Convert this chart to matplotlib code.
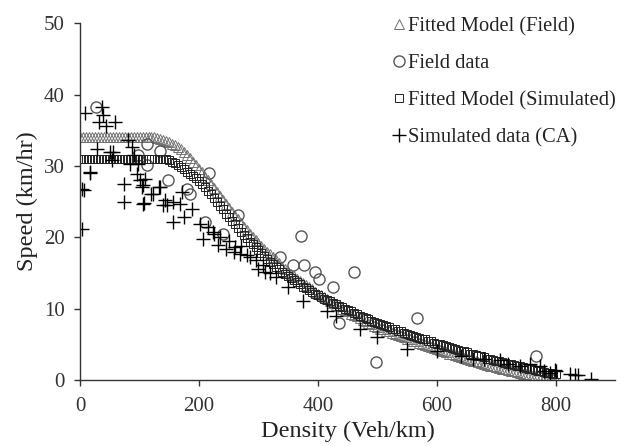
import numpy as np
import matplotlib
matplotlib.use("Agg")
import matplotlib.pyplot as plt

plt.rcParams["font.family"] = ["Liberation Serif", "DejaVu Serif"]

# model curves evaluated every 5 veh/km
density_model = np.arange(0, 801, 5)

speed_fit_field = [34.0] * 26 + [
    33.9, 33.8, 33.7, 33.5, 33.3, 33.1, 32.9, 32.6, 32.3, 31.9,  # 130-175
    31.5, 31.1, 30.6, 30.1, 29.6, 29.1, 28.5, 28.0, 27.4, 26.9,  # 180-225
    26.3, 25.8, 25.2, 24.7, 24.1, 23.6, 23.0, 22.5, 22.0, 21.5,  # 230-275
    21.0, 20.5, 20.1, 19.6, 19.2, 18.8, 18.4, 18.0, 17.6, 17.2,  # 280-325
    16.8, 16.4, 15.9, 15.6, 15.2, 14.9, 14.6, 14.2, 13.9, 13.6,  # 330-375
    13.3, 13.0, 12.7, 12.4, 12.1, 11.9, 11.6, 11.3, 11.0, 10.8,  # 380-425
    10.5, 10.3, 10.0, 9.8, 9.6, 9.3, 9.1, 8.9, 8.7, 8.4,         # 430-475
    8.2, 8.0, 7.8, 7.6, 7.4, 7.2, 7.1, 6.9, 6.8, 6.6,            # 480-525
    6.4, 6.3, 6.1, 6.0, 5.8, 5.7, 5.5, 5.4, 5.2, 5.1,            # 530-575
    4.9, 4.8, 4.6, 4.5, 4.3, 4.2, 4.0, 3.9, 3.7, 3.6,            # 580-625
    3.5, 3.3, 3.2, 3.1, 3.0, 2.8, 2.7, 2.6, 2.5, 2.4,            # 630-675
    2.3, 2.1, 2.0, 1.9, 1.8, 1.7, 1.6, 1.5, 1.4, 1.3,            # 680-725
    1.2, 1.1, 1.0, 0.9, 0.8, 0.7, 0.6, 0.5, 0.5, 0.4,            # 730-775
    0.3, 0.2, 0.1, 0.1, 0.0,                                     # 780-800
]

speed_fit_sim = [31.0] * 30 + [
    30.8, 30.6, 30.4, 30.1, 29.8, 29.5, 29.2, 28.9, 28.6, 28.3,  # 150-195
    27.9, 27.5, 27.0, 26.5, 26.0, 25.5, 25.0, 24.4, 23.9, 23.3,  # 200-245
    22.8, 22.3, 21.8, 21.3, 20.8, 20.3, 19.9, 19.4, 19.0, 18.6,  # 250-295
    18.2, 17.8, 17.4, 17.0, 16.6, 16.2, 15.9, 15.5, 15.2, 14.9,  # 300-345
    14.6, 14.3, 14.0, 13.7, 13.4, 13.1, 12.9, 12.6, 12.4, 12.1,  # 350-395
    11.9, 11.6, 11.4, 11.2, 11.0, 10.8, 10.6, 10.4, 10.2, 10.0,  # 400-445
    9.8, 9.6, 9.4, 9.2, 9.0, 8.8, 8.7, 8.5, 8.3, 8.1,            # 450-495
    8.0, 7.8, 7.7, 7.5, 7.4, 7.2, 7.1, 6.9, 6.8, 6.6,            # 500-545
    6.5, 6.3, 6.2, 6.0, 5.9, 5.8, 5.7, 5.5, 5.4, 5.2,            # 550-595
    5.1, 5.0, 4.9, 4.7, 4.6, 4.5, 4.4, 4.2, 4.1, 4.0,            # 600-645
    3.9, 3.7, 3.6, 3.5, 3.4, 3.3, 3.2, 3.0, 2.9, 2.8,            # 650-695
    2.7, 2.6, 2.5, 2.4, 2.3, 2.2, 2.1, 2.0, 1.9, 1.8,            # 700-745
    1.7, 1.6, 1.5, 1.4, 1.3, 1.2, 1.1, 1.0, 1.0, 0.9,            # 750-795
    0.8,                                                         # 800
]

# observed field data
field_density = [27, 97, 112, 112, 134, 148, 179, 184, 210, 217, 240, 266,
                 336, 358, 371, 376, 395, 401, 426, 436, 460, 498, 566, 766]
field_speed = [38.2, 31.5, 33.1, 30.1, 32.1, 28.0, 26.8, 26.0, 22.2, 29.0, 20.5, 23.1,
               17.2, 16.1, 20.2, 16.1, 15.2, 14.1, 13.1, 8.0, 15.2, 2.5, 8.7, 3.4]

# cellular automaton output
ca_density = [8, 36, 38, 31, 44, 59, 16, 6, 73, 74, 28, 50, 81, 87, 90, 84,
              95, 101, 106, 108, 120, 134, 143, 157, 171, 188,
              3, 106, 140, 168, 157, 174, 202, 207, 224, 232, 246, 258, 269,
              286, 308, 311, 375, 415, 471, 549, 17, 3, 109, 123, 132, 146,
              56, 53, 98, 104, 215, 225, 235, 250, 260, 270, 280, 295, 300,
              320, 330, 350, 430, 500, 600, 640, 660, 680, 706, 720, 740,
              756, 773, 780, 790, 798, 800, 824, 832, 838, 860]
ca_speed = [37.4, 38.2, 37.2, 36.2, 35.6, 36.2, 29.0, 26.6, 27.5, 25.0, 32.4, 32.0, 33.6, 32.7, 31.5, 30.3,
            28.9, 28.0, 27.3, 24.8, 26.1, 27.1, 25.2, 25.0, 26.4, 24.0,
            21.2, 24.7, 24.5, 24.7, 22.2, 22.9, 21.9, 19.8, 20.7, 18.9, 18.4, 18.0, 17.7,
            17.3, 16.1, 15.2, 11.1, 9.6, 7.2, 4.4, 29.2, 26.7, 28.2, 26.1, 27.1, 24.5,
            32.0, 30.8, 30.3, 27.1, 21.5, 20.5, 20.0, 19.5, 18.6, 18.8, 17.5, 16.8, 15.5,
            15.0, 14.5, 13.0, 9.0, 6.0, 4.0, 3.3, 3.0, 2.9, 2.8, 2.2, 2.0,
            2.3, 1.9, 1.3, 1.0, 1.4, 1.2, 0.9, 0.7, 0.7, 0.2]

fig = plt.figure(figsize=(6.31, 4.46), dpi=100)
ax = fig.add_axes([0.127, 0.148, 0.848, 0.800])

ax.plot(density_model, speed_fit_field, linestyle="none", marker="^",
        markersize=6.5, markerfacecolor="none", markeredgecolor="#707070",
        markeredgewidth=0.7, label="Fitted Model (Field)")
ax.plot(field_density, field_speed, linestyle="none", marker="o",
        markersize=8, markerfacecolor="none", markeredgecolor="#555555",
        markeredgewidth=1.0, label="Field data")
ax.plot(density_model, speed_fit_sim, linestyle="none", marker="s",
        markersize=6, markerfacecolor="none", markeredgecolor="#222222",
        markeredgewidth=0.7, label="Fitted Model (Simulated)")
ax.plot(ca_density, ca_speed, linestyle="none", marker="+",
        markersize=10, markeredgecolor="black", markeredgewidth=1.0,
        label="Simulated data (CA)")

ax.set_xlim(0, 900)
ax.set_ylim(0, 50)
ax.set_xticks([0, 200, 400, 600, 800])
ax.set_yticks([0, 10, 20, 30, 40, 50])
ax.spines["top"].set_visible(False)
ax.spines["right"].set_visible(False)
for side in ("left", "bottom"):
    ax.spines[side].set_color("#333333")
    ax.spines[side].set_linewidth(1.0)
ax.tick_params(axis="both", direction="out", length=4, width=1.0,
               color="#333333", labelsize=15, labelcolor="#333333")
ax.tick_params(axis="y", pad=7)
ax.tick_params(axis="x", pad=8)

ax.set_xlabel("Density (Veh/km)", fontsize=17.5, color="#222222", labelpad=4)
ax.set_ylabel("Speed (km/hr)", fontsize=17.5, color="#222222", labelpad=4)

leg = ax.legend(loc="upper left", bbox_to_anchor=(0.624, 0.962),
                bbox_transform=fig.transFigure, frameon=False,
                fontsize=14.8, handlelength=0.5, handletextpad=0.2,
                labelspacing=0.86, borderaxespad=0, borderpad=0)
for text in leg.get_texts():
    text.set_color("#222222")

fig.savefig("out.png", dpi=100)
